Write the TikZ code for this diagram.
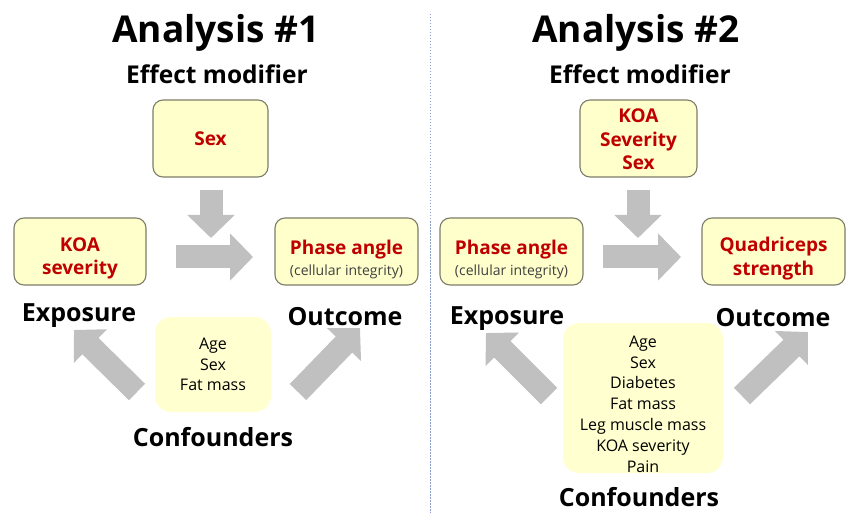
\documentclass[tikz,border=0pt]{standalone}
\usepackage{fontspec}
\setmainfont{Open Sans}
\usetikzlibrary{arrows.meta,calc}
\definecolor{boxfill}{RGB}{255,255,204}
\definecolor{conffill}{RGB}{255,255,208}
\definecolor{boxline}{RGB}{125,125,105}
\definecolor{redtxt}{RGB}{192,0,0}
\definecolor{arrowgray}{RGB}{192,192,192}
\definecolor{divline}{RGB}{140,160,205}
\newcommand{\subnote}[1]{{\fontsize{14}{16}\selectfont\mdseries\color{black!75}#1}}
\tikzset{
  varbox/.style={draw=boxline, line width=1.1pt, fill=boxfill, rounded corners=10pt, inner sep=0pt},
  redlabel/.style={align=center, inner sep=0pt, font=\fontsize{19}{23.5}\selectfont\bfseries, text=redtxt},
  confbox/.style={fill=conffill, rounded corners=16pt, align=center, inner sep=2pt, font=\fontsize{16}{20.8}\selectfont},
  title/.style={font=\fontsize{37}{40}\selectfont\bfseries, anchor=base},
  subtitle/.style={font=\fontsize{24.5}{26}\selectfont\bfseries, anchor=base},
  role/.style={font=\fontsize{25}{28}\selectfont\bfseries, anchor=base},
  fatarrow/.style={draw=arrowgray, line width=23pt, -{Triangle[length=23pt,width=46pt]}}
}
\begin{document}
\begin{tikzpicture}[x=1pt,y=-1pt]
\useasboundingbox (0,0) rectangle (849,513);
\fill[white] (0,0) rectangle (849,513);
% divider
\coordinate (dtop) at (430,14);
\coordinate (dbot) at (430,513);
\draw[divline, line width=0.8pt, dash pattern=on 1.5pt off 1.5pt] (dtop) -- (dbot);

% ---------- Analysis 1 ----------
\node[title] (t1) at (216,43) {Analysis \#1};
\node[subtitle] (s1) at (217,84) {Effect modifier};
\node[varbox, minimum width=115pt, minimum height=77pt] (sex1) at (210.5,138.5) {};
\node[redlabel] (sex1t) at (sex1.center) {Sex};
\node[varbox, minimum width=132pt, minimum height=67pt] (koa1) at (80,251.5) {};
\node[redlabel] (koa1t) at ($(koa1.center)+(0,7)$) {KOA\\severity};
\node[varbox, minimum width=143pt, minimum height=67pt] (pa1) at (346.5,251.5) {};
\node[redlabel] (pa1t) at ($(pa1.center)+(0,8)$) {Phase angle\\[-2pt]\subnote{(cellular integrity)}};
\node[role] (exp1) at (79,321) {Exposure};
\node[role] (out1) at (345,325) {Outcome};
\node[confbox, minimum width=116pt, minimum height=95pt] (conf1) at (213,364.5) {Age\\Sex\\Fat mass};
\node[role] (cl1) at (213,446) {Confounders};
\coordinate (d1a) at (211,190);
\coordinate (d1b) at (211,238);
\coordinate (r1a) at (176,257);
\coordinate (r1b) at (253,257);
\coordinate (l1a) at (137,392);
\coordinate (l1b) at (74,330);
\coordinate (o1a) at (298,392);
\coordinate (o1b) at (360,328);
\draw[fatarrow] (d1a) -- (d1b);
\draw[fatarrow] (r1a) -- (r1b);
\draw[fatarrow] (l1a) -- (l1b);
\draw[fatarrow] (o1a) -- (o1b);

% ---------- Analysis 2 ----------
\node[title] (t2) at (636,43) {Analysis \#2};
\node[subtitle] (s2) at (640,84) {Effect modifier};
\node[varbox, minimum width=117pt, minimum height=77pt] (sex2) at (638.5,138.5) {};
\node[redlabel] (sex2t) at ($(sex2.center)+(0,1)$) {KOA\\Severity\\Sex};
\node[varbox, minimum width=143pt, minimum height=67pt] (pa2) at (511.5,251.5) {};
\node[redlabel] (pa2t) at ($(pa2.center)+(0,8)$) {Phase angle\\[-2pt]\subnote{(cellular integrity)}};
\node[varbox, minimum width=143pt, minimum height=67pt] (qs2) at (773.5,251.5) {};
\node[redlabel] (qs2t) at ($(qs2.center)+(0,7)$) {Quadriceps\\strength};
\node[role] (exp2) at (507,324) {Exposure};
\node[role] (out2) at (773,326) {Outcome};
\node[confbox, minimum width=160pt, minimum height=150pt] (conf2) at (643,398) {};
\node[align=center, inner sep=0pt, font=\fontsize{16}{20.8}\selectfont] (conf2t) at ($(conf2.center)+(0,6)$) {Age\\Sex\\Diabetes\\Fat mass\\Leg muscle mass\\KOA severity\\Pain};
\node[role] (cl2) at (639,506) {Confounders};
\coordinate (d2a) at (638,190);
\coordinate (d2b) at (638,238);
\coordinate (r2a) at (603,257);
\coordinate (r2b) at (681,257);
\coordinate (l2a) at (549,396);
\coordinate (l2b) at (486,333);
\coordinate (o2a) at (742,396);
\coordinate (o2b) at (808,332);
\draw[fatarrow] (d2a) -- (d2b);
\draw[fatarrow] (r2a) -- (r2b);
\draw[fatarrow] (l2a) -- (l2b);
\draw[fatarrow] (o2a) -- (o2b);
\end{tikzpicture}
\end{document}
